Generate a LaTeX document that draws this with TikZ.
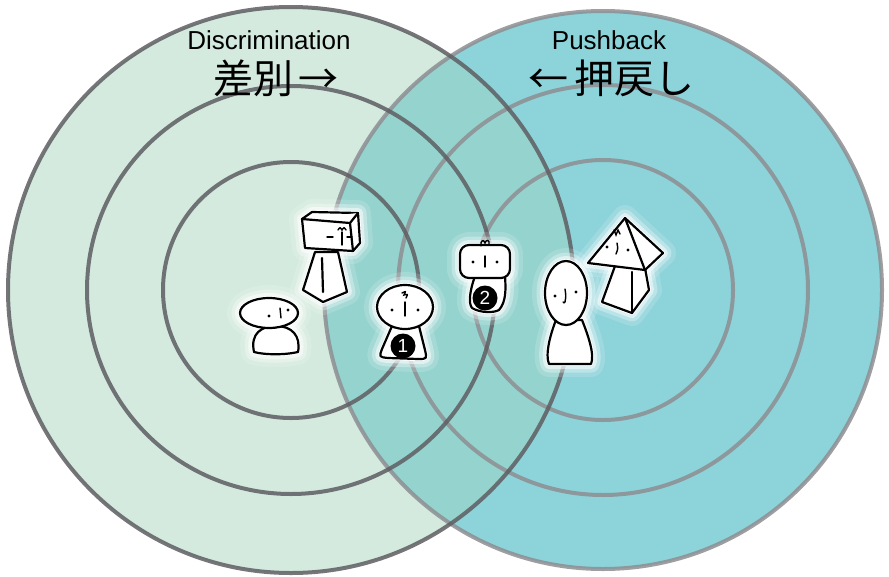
\documentclass[tikz,border=0pt]{standalone}
\usepackage{fontspec}
\setmainfont{Liberation Sans}
\newfontfamily\jpfont{Noto Sans CJK JP}
\usepackage{xcolor}
\usepackage{tikz}

\definecolor{discMint}{HTML}{D4EADE}
\definecolor{pushTeal}{HTML}{8DD3DA}
\definecolor{lensTeal}{HTML}{95D3CE}
\definecolor{ringDark}{HTML}{5E5E62}
\definecolor{ringLight}{HTML}{8E8E92}

\begin{document}
\begin{tikzpicture}[x=1pt,y=-1pt]
\tikzstyle{ringL} = [line width=4pt, draw=ringDark, draw opacity=.85]
\tikzstyle{ringR} = [line width=4pt, draw=ringLight, draw opacity=.85]
\tikzstyle{halo} = [draw=white, fill=white, line width=4pt, line join=round,
  preaction={draw=white, draw opacity=.15, line width=26pt, line join=round},
  preaction={draw=white, draw opacity=.3, line width=17pt, line join=round},
  preaction={draw=white, draw opacity=.5, line width=10pt, line join=round}]
\tikzstyle{figure} = [draw=black, fill=white, line width=2.2pt, line join=round, line cap=round]
\tikzstyle{face} = [draw=black, line width=1.4pt, line cap=round]
\tikzstyle{eye} = [fill=black]
\tikzstyle{badge} = [circle, fill=black, text=white, inner sep=0pt, minimum size=25pt, font=\fontsize{19}{19}\selectfont]
\tikzstyle{title} = [font=\fontsize{26}{26}\selectfont]
\tikzstyle{jptitle} = [font=\jpfont\fontsize{40}{40}\selectfont]

\useasboundingbox (0,0) rectangle (889,576);

% the two sets of rings
\fill[discMint] (291,290) circle (283pt);
\fill[pushTeal] (603,290) circle (279pt);
\begin{scope}
  \clip (291,290) circle (283pt);
  \fill[lensTeal] (603,290) circle (279pt);
\end{scope}
\foreach \r in {279,205,130}
  \draw[ringR] (603,290) circle (\r pt);
\foreach \r in {283,204,128}
  \draw[ringL] (291,290) circle (\r pt);

\node[title] (discEn) at (269,40) {Discrimination};
\node[jptitle] (discJa) at (276,78) {差別\hspace{5pt}→};
\node[title] (pushEn) at (609,40) {Pushback};
\node[jptitle] (pushJa) at (611,78) {←\hspace{6pt}押戻し};

% people: halo pass first, then the drawing pass
\foreach \s in {halo,figure} {
  % round one
  \draw[\s] (254,352) .. controls (250,333) and (262,326) .. (276,326)
    .. controls (292,326) and (301,336) .. (298,352)
    .. controls (285,355) and (265,355) .. (254,352) -- cycle;
  \draw[\s] (269,313) ellipse (29pt and 15pt);
  % box head
  \draw[\s] (315,252) -- (303,290) -- (323,302) -- (347,292) -- (338,252) -- cycle;
  \draw[\s] (302,219) -- (312,212) -- (358,213) -- (360,243) -- (353,251) -- (305,248) -- cycle;
  % number one
  \draw[\s] (392,326) -- (382,349) .. controls (379,357) .. (388,358)
    -- (418,359) .. controls (427,359) .. (425,350) -- (419,326) -- cycle;
  \draw[\s] (405,307) ellipse (28pt and 22pt);
  % number two
  \draw[\s] (475,276) .. controls (470,290) and (468,303) .. (472,308)
    .. controls (480,313) and (494,313) .. (499,310)
    .. controls (506,302) and (506,290) .. (505,276) -- cycle;
  \draw[\s, rounded corners=9pt] (460,245) rectangle (510,278);
  % tall one
  \draw[\s] (556,320) .. controls (550,335) and (545,355) .. (549,364)
    -- (591,364) .. controls (595,355) and (588,335) .. (582,320) -- cycle;
  \draw[\s] (566,293) ellipse (21pt and 32pt);
  % pyramid head
  \draw[\s] (615,266) -- (602,302) -- (632,313) -- (649,290) -- (645,268) -- cycle;
  \draw[\s] (625,218) -- (588,263) -- (645,270) -- (663,253) -- cycle;
}

% inner edges
\draw[figure] (322,258) -- (323,292);
\draw[figure] (302,219) -- (350,223) -- (358,213);
\draw[figure] (350,223) -- (353,251);
\draw[figure] (632,272) -- (632,313);
\draw[figure] (625,218) -- (645,270);

% faces
\fill[eye] (269,316) circle (1.6pt);
\fill[eye] (288,310) circle (1.6pt);
\draw[face] (280,308) -- (281,318);

\draw[face] (327,237) -- (333,237);
\draw[face] (347,237) -- (352,237);
\draw[face] (342,232) -- (342,245);
\draw[face] (338,230) .. controls (340,227) .. (342,230) .. controls (344,227) .. (346,230);

\fill[eye] (392,310) circle (1.6pt);
\fill[eye] (418,310) circle (1.6pt);
\draw[face] (405,302) -- (405,316);
\draw[face] (402,293) .. controls (406,291) .. (404,295) .. controls (408,294) .. (406,298);

\fill[eye] (473,262) circle (1.6pt);
\fill[eye] (497,262) circle (1.6pt);
\draw[face] (485,256) -- (485,267);
\draw[face] (481,246) .. controls (480,240) and (484,239) .. (485,243)
  .. controls (486,239) and (490,240) .. (489,244);

\fill[eye] (555,296) circle (1.6pt);
\fill[eye] (576,292) circle (1.6pt);
\draw[face] (565,289) .. controls (566,296) .. (565,302) .. controls (564,303) .. (563,302);

\fill[eye] (607,247) circle (1.6pt);
\fill[eye] (628,250) circle (1.6pt);
\draw[face] (617,243) .. controls (618,249) .. (616,254);
\draw[face] (614,230) -- (616,235) -- (618,230) -- (620,234);

\node[badge] (badgeOne) at (403,346) {1};
\node[badge] (badgeTwo) at (485,298) {2};
\end{tikzpicture}
\end{document}
